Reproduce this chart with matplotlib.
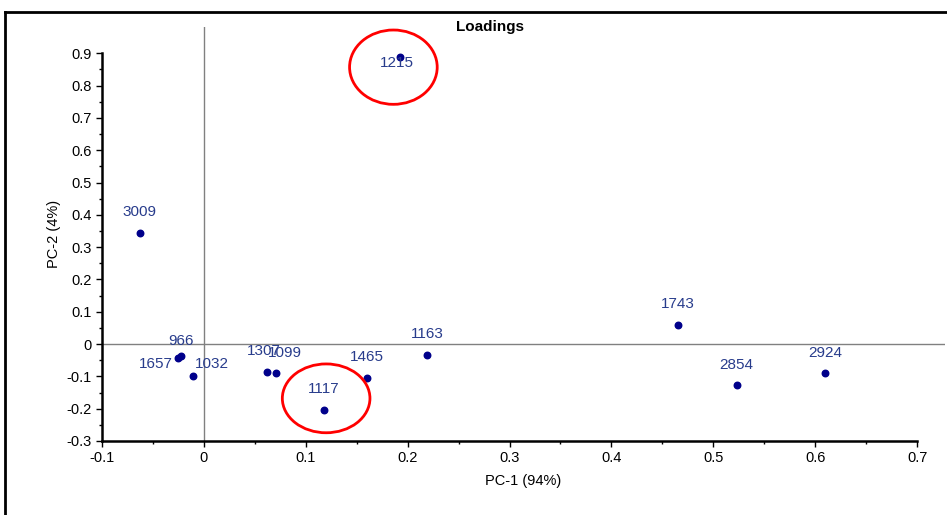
import matplotlib
matplotlib.use("Agg")
import matplotlib.pyplot as plt
from matplotlib.patches import Ellipse
from matplotlib.lines import Line2D
import numpy as np

plt.rcParams['font.family'] = ['Liberation Sans', 'DejaVu Sans']

# loadings
labels = ['1215', '3009', '966', '1657', '1032', '1307', '1099',
          '1117', '1465', '1163', '1743', '2854', '2924']
pc1 = [0.192, -0.063, -0.022, -0.025, -0.011, 0.062, 0.071,
       0.118, 0.160, 0.219, 0.465, 0.523, 0.610]
pc2 = [0.887, 0.343, -0.037, -0.043, -0.100, -0.085, -0.091,
       -0.204, -0.104, -0.034, 0.058, -0.128, -0.091]

# label offsets in points (dx, dy) of label centre
offsets = {'1215': (-2, -4), '966': (0, 11), '1657': (-16, -4), '1032': (14, 9),
           '1307': (-2, 15), '1099': (6, 15)}

fig = plt.figure(figsize=(9.47, 5.15), dpi=100)
ax = fig.add_axes([0.1077, 0.1437, 0.8603 + 0.03, 0.8043])

ax.set_xlim(-0.1, 0.7275)
ax.set_ylim(-0.3, 0.982)

ax.axhline(0, color='#808080', lw=1, zorder=1)
ax.axvline(0, color='#808080', lw=1, zorder=1)

ax.scatter(pc1, pc2, s=22, color='#00008B', zorder=3)
for lab, x, y in zip(labels, pc1, pc2):
    dx, dy = offsets.get(lab, (0, 15))
    ax.annotate(lab, (x, y), xytext=(dx, dy), textcoords='offset points',
                ha='center', va='center', fontsize=11, color='#283C8C')

# red circles
ax.add_patch(Ellipse((0.186, 0.857), 0.086, 0.23, fill=False, ec='red', lw=2, zorder=4))
ax.add_patch(Ellipse((0.120, -0.168), 0.086, 0.213, fill=False, ec='red', lw=2, zorder=4))

ax.spines['top'].set_visible(False)
ax.spines['right'].set_visible(False)
ax.spines['left'].set_bounds(-0.3, 0.9)
ax.spines['bottom'].set_bounds(-0.1, 0.7)
ax.spines['left'].set_linewidth(1.8)
ax.spines['bottom'].set_linewidth(1.8)

ax.set_xticks(np.round(np.arange(-0.1, 0.71, 0.1), 1))
ax.set_xticklabels(['-0.1', '0', '0.1', '0.2', '0.3', '0.4', '0.5', '0.6', '0.7'])
ax.set_xticks(np.arange(-0.05, 0.7, 0.1), minor=True)
ax.set_yticks(np.round(np.arange(-0.3, 0.91, 0.1), 1))
ax.set_yticklabels(['-0.3', '-0.2', '-0.1', '0', '0.1', '0.2', '0.3', '0.4',
                    '0.5', '0.6', '0.7', '0.8', '0.9'])
ax.set_yticks(np.arange(-0.25, 0.9, 0.1), minor=True)
ax.tick_params(axis='both', which='major', labelsize=10.5, length=4, width=1)
ax.tick_params(axis='both', which='minor', length=2.5, width=1)

ax.set_xlabel('PC-1 (94%)', fontsize=10.5, labelpad=6)
ax.set_ylabel('PC-2 (4%)', fontsize=10.5, labelpad=4)

fig.text(0.517, 0.947, 'Loadings', ha='center', va='center', fontsize=11,
         fontweight='bold', fontstretch='condensed')

# outer frame
fig.add_artist(Line2D([5 / 947, 1.0], [1 - 12 / 515, 1 - 12 / 515], color='black', lw=2))
fig.add_artist(Line2D([5 / 947, 5 / 947], [0, 1 - 12 / 515], color='black', lw=2))

fig.savefig('out.png', dpi=100)
